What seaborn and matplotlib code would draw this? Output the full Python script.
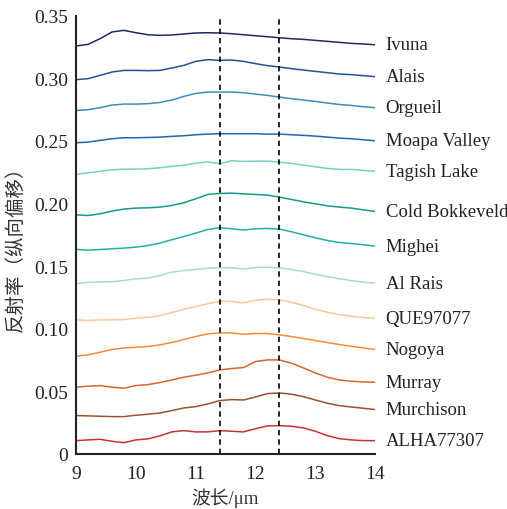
import numpy as np
import pandas as pd
import matplotlib
matplotlib.use("Agg")
import matplotlib.pyplot as plt
import seaborn as sns
from matplotlib.ticker import FuncFormatter

# ---- data ----
wavelength = [9.0, 9.2, 9.4, 9.6, 9.8, 10.0, 10.2, 10.4, 10.6, 10.8, 11.0, 11.2, 11.4,
              11.6, 11.8, 12.0, 12.2, 12.4, 12.6, 12.8, 13.0, 13.2, 13.4, 13.6, 13.8, 14.0]

ivuna = [0.3259, 0.3272, 0.3317, 0.3371, 0.3384, 0.3365, 0.3349, 0.3344, 0.3347, 0.3355,
         0.3363, 0.3365, 0.3363, 0.3357, 0.3349, 0.3341, 0.3333, 0.3325, 0.3317, 0.3312,
         0.3304, 0.3296, 0.3288, 0.3280, 0.3275, 0.3269]
alais = [0.2990, 0.2998, 0.3024, 0.3051, 0.3064, 0.3064, 0.3062, 0.3064, 0.3083, 0.3104,
         0.3136, 0.3150, 0.3144, 0.3147, 0.3136, 0.3118, 0.3102, 0.3091, 0.3078, 0.3067,
         0.3056, 0.3046, 0.3035, 0.3030, 0.3022, 0.3014]
orgueil = [0.2744, 0.2750, 0.2766, 0.2787, 0.2795, 0.2795, 0.2798, 0.2808, 0.2827, 0.2856,
           0.2880, 0.2891, 0.2891, 0.2891, 0.2886, 0.2875, 0.2864, 0.2851, 0.2838, 0.2827,
           0.2816, 0.2803, 0.2792, 0.2784, 0.2774, 0.2766]
moapa = [0.2486, 0.2491, 0.2505, 0.2518, 0.2526, 0.2526, 0.2528, 0.2531, 0.2537, 0.2542,
         0.2550, 0.2555, 0.2558, 0.2558, 0.2558, 0.2558, 0.2555, 0.2555, 0.2550, 0.2545,
         0.2539, 0.2531, 0.2523, 0.2518, 0.2510, 0.2502]
tagish = [0.2233, 0.2246, 0.2257, 0.2270, 0.2275, 0.2275, 0.2278, 0.2286, 0.2297, 0.2307,
          0.2323, 0.2334, 0.2318, 0.2342, 0.2337, 0.2339, 0.2339, 0.2331, 0.2321, 0.2307,
          0.2294, 0.2281, 0.2273, 0.2273, 0.2265, 0.2257]
cold_bokkeveld = [0.1910, 0.1905, 0.1918, 0.1940, 0.1956, 0.1964, 0.1966, 0.1972, 0.1985, 0.2006,
                  0.2038, 0.2073, 0.2081, 0.2083, 0.2078, 0.2073, 0.2068, 0.2052, 0.2033, 0.2014,
                  0.1998, 0.1982, 0.1972, 0.1964, 0.1950, 0.1937]
mighei = [0.1633, 0.1628, 0.1633, 0.1639, 0.1644, 0.1652, 0.1665, 0.1684, 0.1711, 0.1737,
          0.1764, 0.1793, 0.1807, 0.1799, 0.1788, 0.1799, 0.1801, 0.1796, 0.1775, 0.1751,
          0.1727, 0.1705, 0.1689, 0.1681, 0.1671, 0.1660]
al_rais = [0.1359, 0.1370, 0.1375, 0.1375, 0.1385, 0.1399, 0.1404, 0.1425, 0.1452, 0.1465,
           0.1473, 0.1484, 0.1489, 0.1487, 0.1476, 0.1489, 0.1492, 0.1487, 0.1473, 0.1457,
           0.1436, 0.1417, 0.1399, 0.1385, 0.1372, 0.1364]
que97077 = [0.1071, 0.1066, 0.1071, 0.1071, 0.1074, 0.1084, 0.1092, 0.1103, 0.1130, 0.1156,
            0.1178, 0.1199, 0.1220, 0.1218, 0.1207, 0.1228, 0.1236, 0.1231, 0.1212, 0.1186,
            0.1156, 0.1132, 0.1114, 0.1100, 0.1090, 0.1082]
nogoya = [0.0781, 0.0791, 0.0812, 0.0834, 0.0847, 0.0852, 0.0858, 0.0871, 0.0890, 0.0914,
          0.0938, 0.0959, 0.0967, 0.0967, 0.0956, 0.0962, 0.0962, 0.0951, 0.0938, 0.0922,
          0.0906, 0.0890, 0.0874, 0.0860, 0.0847, 0.0834]
murray = [0.0533, 0.0541, 0.0546, 0.0533, 0.0525, 0.0546, 0.0554, 0.0570, 0.0591, 0.0613,
          0.0629, 0.0647, 0.0671, 0.0682, 0.0690, 0.0738, 0.0751, 0.0751, 0.0725, 0.0687,
          0.0647, 0.0613, 0.0591, 0.0581, 0.0575, 0.0573]
murchison = [0.0306, 0.0304, 0.0301, 0.0298, 0.0298, 0.0309, 0.0317, 0.0327, 0.0346, 0.0367,
             0.0378, 0.0399, 0.0426, 0.0434, 0.0431, 0.0455, 0.0482, 0.0487, 0.0477, 0.0458,
             0.0431, 0.0405, 0.0386, 0.0375, 0.0365, 0.0354]
alha77307 = [0.0106, 0.0112, 0.0117, 0.0101, 0.0090, 0.0112, 0.0120, 0.0144, 0.0176, 0.0186,
             0.0176, 0.0176, 0.0186, 0.0181, 0.0176, 0.0202, 0.0224, 0.0226, 0.0221, 0.0208,
             0.0181, 0.0146, 0.0122, 0.0112, 0.0106, 0.0106]

names = ["Ivuna", "Alais", "Orgueil", "Moapa Valley", "Tagish Lake", "Cold Bokkeveld",
         "Mighei", "Al Rais", "QUE97077", "Nogoya", "Murray", "Murchison", "ALHA77307"]
series = [ivuna, alais, orgueil, moapa, tagish, cold_bokkeveld, mighei, al_rais,
          que97077, nogoya, murray, murchison, alha77307]
colors = ["#1c2c64", "#23519a", "#3c8cc0", "#2266b0", "#74d2c4", "#17998a", "#20b2a0",
          "#a3dfd0", "#fdc898", "#f98a3c", "#d9662a", "#a0502a", "#cc3035"]
dashed_x = [11.4, 12.4]

rows = []
for n, s in zip(names, series):
    for x, y in zip(wavelength, s):
        rows.append({"wavelength": x, "refl": y, "sample": n})
df = pd.DataFrame(rows)

sns.set_style("white")
plt.rcParams["font.family"] = ["Liberation Serif", "Noto Sans CJK SC"]
plt.rcParams["font.size"] = 13

fig = plt.figure(figsize=(5.07, 5.10), dpi=100)
ax = fig.add_axes([0.150, 0.108, 0.590, 0.859])

sns.lineplot(data=df, x="wavelength", y="refl", hue="sample", hue_order=names,
             palette=dict(zip(names, colors)), linewidth=1.1, legend=False, ax=ax,
             estimator=None, sort=True)

for xv in dashed_x:
    ax.axvline(xv, color="black", linestyle=(0, (3.2, 2.4)), linewidth=1.2)

for n, s in zip(names, series):
    ax.annotate(n, xy=(wavelength[-1], s[-1]), xytext=(7.5, 0), textcoords="offset points",
                va="center", ha="left", fontsize=13.5, color="#222222",
                annotation_clip=False)

ax.set_xlim(9, 14)
ax.set_ylim(0, 0.35)
ax.set_xticks([9, 10, 11, 12, 13, 14])
ax.set_yticks(np.arange(0, 0.351, 0.05))
ax.yaxis.set_major_formatter(FuncFormatter(lambda v, p: "0" if abs(v) < 1e-9 else f"{v:.2f}"))
ax.set_xlabel("波长/μm", fontsize=13.5, color="#333333")
ax.set_ylabel("反射率（纵向偏移）", fontsize=14, color="#333333")
ax.xaxis.set_label_coords(0.498, -0.077)
ax.yaxis.set_label_coords(-0.171, 0.48)

for side in ["top", "right"]:
    ax.spines[side].set_visible(False)
for side in ["left", "bottom"]:
    ax.spines[side].set_color("#222222")
    ax.spines[side].set_linewidth(1.5)
ax.tick_params(direction="in", length=4, width=1.2, colors="#222222", labelsize=14,
               labelcolor="#222222")
ax.tick_params(axis="y", pad=5.7)
ax.tick_params(axis="x", pad=8)

fig.savefig("out.png", dpi=100)
